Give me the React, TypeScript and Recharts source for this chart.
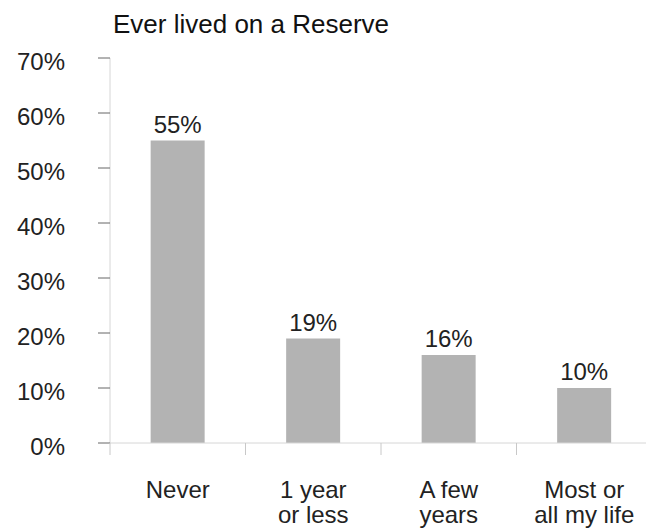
import React from "react";
import { BarChart, Bar, XAxis, YAxis, LabelList } from "recharts";

// Residence history on a reserve, share of respondents (%)
const categories = ["Never", "1 year\nor less", "A few\nyears", "Most or\nall my life"];
const shares = [55, 19, 16, 10];
const yTicks = [0, 10, 20, 30, 40, 50, 60, 70];
const title = "Ever lived on a Reserve";

const data = categories.map((label, i) => ({ label, share: shares[i] }));

const FONT = "'Liberation Sans', Arial, Helvetica, sans-serif";
const TEXT = "#222";
const SIZE = 24;

// Category label (possibly two lines) plus boundary tick marks between bands
function CategoryTick(props: any) {
  const { x, y, payload, index, visibleTicksCount } = props;
  const half = payload && typeof payload.offset === "number" ? payload.offset : 0;
  const lines = String(payload.value).split("\n");
  const last = index === visibleTicksCount - 1;
  return (
    <g>
      <line x1={x - half} x2={x - half} y1={y} y2={y + 12} stroke="#c8c8c8" strokeWidth={1} />
      {last && <line x1={x + half} x2={x + half} y1={y} y2={y + 12} stroke="#c8c8c8" strokeWidth={1} />}
      <text x={x} y={y + 55} textAnchor="middle" fontSize={SIZE} fill={TEXT} fontFamily={FONT}>
        {lines.map((l, i) => (
          <tspan key={i} x={x} dy={i === 0 ? 0 : 25}>
            {l}
          </tspan>
        ))}
      </text>
    </g>
  );
}

export default function App() {
  return (
    <div style={{ position: "relative", width: 646, height: 523, fontFamily: FONT }}>
      <div
        style={{
          position: "absolute",
          left: 105,
          top: 3,
          fontSize: 26,
          lineHeight: "26px",
          color: "#111",
          whiteSpace: "nowrap",
          fontFamily: FONT,
        }}
      >
        {title}
      </div>
      <BarChart
        width={646}
        height={523}
        data={data}
        margin={{ top: 50, right: 2, bottom: 0, left: 0 }}
        barCategoryGap="30%"
      >
        <YAxis
          type="number"
          domain={[0, 70]}
          ticks={yTicks}
          interval={0}
          width={102}
          tickFormatter={(v: number) => `${v}%`}
          axisLine={{ stroke: "#d6d6d6" }}
          tickLine={{ stroke: "#666" }}
          tickSize={12}
          tickMargin={33}
          tick={{ fontSize: SIZE, fill: TEXT, fontFamily: FONT, dy: 3 }}
        />
        <XAxis
          dataKey="label"
          type="category"
          height={88}
          interval={0}
          tickLine={false}
          tickSize={0}
          tickMargin={0}
          axisLine={{ stroke: "#d6d6d6" }}
          tick={<CategoryTick />}
        />
        <Bar dataKey="share" fill="#b3b3b3" isAnimationActive={false}>
          <LabelList
            dataKey="share"
            position="top"
            offset={8}
            formatter={(v: any) => `${v}%`}
            style={{ fontSize: SIZE, fill: TEXT, fontFamily: FONT }}
          />
        </Bar>
      </BarChart>
    </div>
  );
}
